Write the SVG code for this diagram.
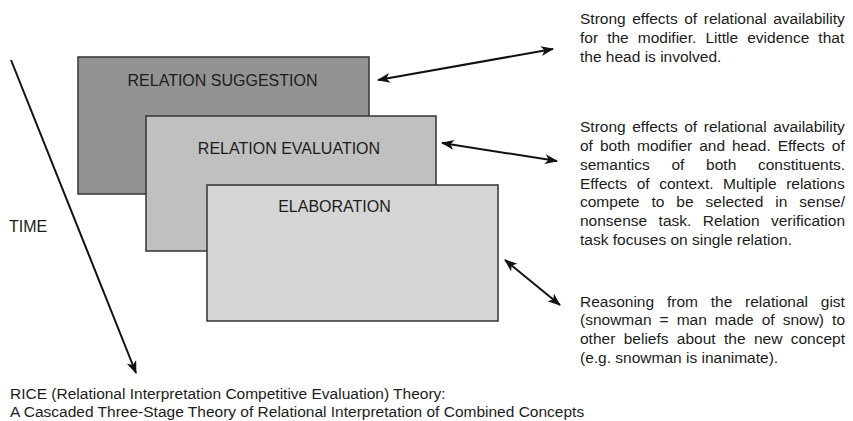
<svg xmlns="http://www.w3.org/2000/svg" width="853" height="421" viewBox="0 0 853 421">
  <style>
    text { font-family: "Liberation Sans", Arial, Helvetica, sans-serif; fill: #1c1c1c; }
    .lbl { font-size: 16px; }
    .body { font-size: 15.5px; }
    .box { stroke: #333; stroke-width: 1.5; }
    .conn { stroke: #111; stroke-width: 2; fill: none; }
  </style>
  <defs>
    <marker id="ah" markerUnits="userSpaceOnUse" markerWidth="14" markerHeight="12" refX="12" refY="5" orient="auto-start-reverse">
      <path d="M0,0 L13,5 L0,10 L3.5,5 z" fill="#111"/>
    </marker>
  </defs>
  <rect width="853" height="421" fill="#fff"/>

  <g id="node-suggestion">
    <rect class="box" x="78" y="57" width="291" height="137" fill="#939393"/>
    <text class="lbl" x="222.5" y="86" text-anchor="middle">RELATION SUGGESTION</text>
  </g>
  <g id="node-evaluation">
    <rect class="box" x="146" y="116" width="290" height="135" fill="#c0c0c0"/>
    <text class="lbl" x="289" y="154" text-anchor="middle">RELATION EVALUATION</text>
  </g>
  <g id="node-elaboration">
    <rect class="box" x="207" y="185" width="291" height="136" fill="#d6d6d6"/>
    <text class="lbl" x="334.5" y="212" text-anchor="middle">ELABORATION</text>
  </g>

  <g id="time">
    <text class="lbl" x="9" y="232">TIME</text>
  </g>

  <g id="connectors">
    <line class="conn" x1="11" y1="60" x2="136" y2="373" marker-end="url(#ah)"/>
    <line class="conn" x1="378" y1="80" x2="553" y2="49" marker-start="url(#ah)" marker-end="url(#ah)"/>
    <line class="conn" x1="442" y1="143" x2="557" y2="161" marker-start="url(#ah)" marker-end="url(#ah)"/>
    <line class="conn" x1="505" y1="260" x2="560" y2="305" marker-start="url(#ah)" marker-end="url(#ah)"/>
  </g>

  <g id="note-suggestion">
    <text class="body">
      <tspan x="580" y="24" style="word-spacing:2.28px">Strong effects of relational availability</tspan>
      <tspan x="580" y="42.8" style="word-spacing:4.76px">for the modifier. Little evidence that</tspan>
      <tspan x="580" y="61.6">the head is involved.</tspan>
    </text>
  </g>

  <g id="note-evaluation">
    <text class="body">
      <tspan x="580" y="132" style="word-spacing:2.28px">Strong effects of relational availability</tspan>
      <tspan x="580" y="150.8" style="word-spacing:2.67px">of both modifier and head. Effects of</tspan>
      <tspan x="580" y="169.7" style="word-spacing:17.4px">semantics of both constituents.</tspan>
      <tspan x="580" y="188.5" style="word-spacing:5.3px">Effects of context. Multiple relations</tspan>
      <tspan x="580" y="207.3" style="word-spacing:7.68px">compete to be selected in sense/</tspan>
      <tspan x="580" y="226.2" style="word-spacing:7.07px">nonsense task. Relation verification</tspan>
      <tspan x="580" y="245">task focuses on single relation.</tspan>
    </text>
  </g>

  <g id="note-elaboration">
    <text class="body">
      <tspan x="580" y="306.5" style="word-spacing:8.5px">Reasoning from the relational gist</tspan>
      <tspan x="580" y="325.3" style="word-spacing:3.75px">(snowman = man made of snow) to</tspan>
      <tspan x="580" y="344.2" style="word-spacing:4.06px">other beliefs about the new concept</tspan>
      <tspan x="580" y="363">(e.g. snowman is inanimate).</tspan>
    </text>
  </g>

  <g id="caption">
    <text class="body">
      <tspan x="10" y="399">RICE (Relational Interpretation Competitive Evaluation) Theory:</tspan>
      <tspan x="10" y="417">A Cascaded Three-Stage Theory of Relational Interpretation of Combined Concepts</tspan>
    </text>
  </g>
</svg>
